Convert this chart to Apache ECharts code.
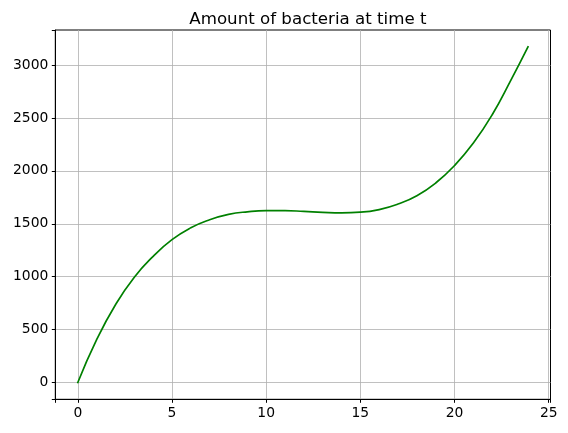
<!DOCTYPE html>
<html>
<head>
<meta charset="utf-8">
<script src="https://cdn.jsdelivr.net/npm/echarts@6/dist/echarts.min.js"></script>
<style>
  html, body { margin: 0; padding: 0; background: #fff; }
  #chart { width: 568px; height: 433px; }
</style>
</head>
<body>
<div id="chart"></div>
<script>
// Data
const times = [0, 1, 2, 3, 4, 5, 6, 7, 8, 9, 10, 11, 12, 13, 14, 15, 16, 17, 18, 19, 20, 21, 22, 23, 23.9];
const bacteria = [0, 405, 735, 995, 1192, 1350, 1462, 1538, 1588, 1613, 1624, 1624, 1617, 1608, 1603, 1609, 1634, 1686, 1765, 1885, 2050, 2262, 2530, 2860, 3172];
const xTicks = [0, 5, 10, 15, 20, 25];
const yTicks = [0, 500, 1000, 1500, 2000, 2500, 3000];
const titleText = 'Amount of bacteria at time t';

const xMin = -1.195, xMax = 25.095;
const yMin = -158.6, yMax = 3330.6;

const FONT = '"DejaVu Sans", "Liberation Sans", sans-serif';
const chart = echarts.init(document.getElementById('chart'), null, { renderer: 'canvas' });

const commonAxis = (ticks) => ({
  axisLine: { show: true, onZero: false, lineStyle: { color: '#000', width: 1 } },
  axisTick: { show: true, inside: false, length: 3.5, lineStyle: { color: '#000', width: 1 } },
  axisLabel: {
    color: '#000', fontSize: 13.89, fontFamily: FONT, margin: 7, customValues: ticks,
    formatter: (v) => String(v)
  },
  splitLine: { show: true, showMinLine: false, showMaxLine: false, lineStyle: { color: '#b0b0b0', width: 0.8 } }
});

chart.setOption({
  animation: false,
  backgroundColor: '#fff',
  title: {
    text: titleText,
    left: 302.9,
    textAlign: 'center',
    top: 6,
    textStyle: { color: '#000', fontSize: 16.67, fontWeight: 'normal', fontFamily: FONT }
  },
  grid: {
    left: 55.3, right: 17.5, top: 30, bottom: 33.7,
    show: true, borderColor: '#000', borderWidth: 1, backgroundColor: 'transparent'
  },
  xAxis: Object.assign({ type: 'value', min: xMin, max: xMax, minInterval: 5, maxInterval: 5 }, commonAxis(xTicks)),
  yAxis: Object.assign({ type: 'value', min: yMin, max: yMax, minInterval: 500, maxInterval: 500 }, commonAxis(yTicks)),
  series: [{
    type: 'line',
    data: times.map((t, i) => [t, bacteria[i]]),
    showSymbol: false,
    smooth: 0.5,
    lineStyle: { color: '#008000', width: 1.7, cap: 'square' },
    itemStyle: { color: '#008000' },
    z: 3
  }]
});
</script>
</body>
</html>
